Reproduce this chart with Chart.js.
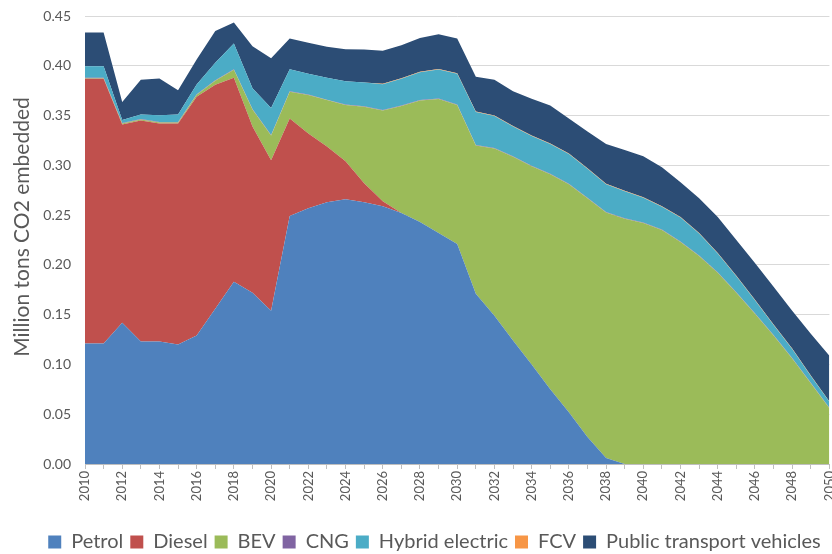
<!DOCTYPE html>
<html>
<head>
<meta charset="utf-8">
<script src="https://cdn.jsdelivr.net/npm/chart.js@4"></script>
<style>
html,body{margin:0;padding:0;background:#fff;overflow:hidden;}
#wrap{width:847px;height:554px;position:relative;}
</style>
</head>
<body>
<div id="wrap"><canvas id="c"></canvas></div>
<script>
const years = [];
for (let y = 2010; y <= 2050; y++) years.push(String(y));

const petrol = [0.121,0.121,0.142,0.123,0.123,0.120,0.129,0.156,0.183,0.172,0.154,0.249,0.257,0.263,0.266,0.263,0.259,0.252,0.243,0.232,0.221,0.171,0.149,0.124,0.100,0.075,0.052,0.027,0.006,0,0,0,0,0,0,0,0,0,0,0,0];
const diesel = [0.266,0.266,0.199,0.222,0.219,0.222,0.240,0.225,0.205,0.167,0.151,0.098,0.075,0.056,0.038,0.019,0.005,0,0,0,0,0,0,0,0,0,0,0,0,0,0,0,0,0,0,0,0,0,0,0,0];
const bev = [0.0005,0.0005,0.001,0.001,0.001,0.001,0.002,0.004,0.008,0.017,0.025,0.027,0.0386,0.0465,0.0565,0.0768,0.091,0.1075,0.122,0.1347,0.1395,0.149,0.168,0.1845,0.199,0.216,0.229,0.240,0.2465,0.2464,0.242,0.235,0.223,0.209,0.192,0.172,0.151,0.129,0.106,0.081,0.056];
const cng = [0.0005,0.0005,0.0005,0.0005,0.0005,0.0005,0.0005,0.0005,0.0005,0.0005,0.0005,0.0005,0.0005,0.0005,0.0005,0.0005,0.0005,0.0005,0.0005,0.0005,0.0005,0.0005,0.0005,0.0005,0.0005,0.0005,0.0005,0.0005,0.0005,0.0005,0.0005,0.0005,0.0005,0.0005,0.0005,0.0005,0.0005,0.0005,0.0005,0.0005,0.0005];
const hybrid = [0.0115,0.0115,0.003,0.0045,0.0067,0.0075,0.0097,0.0175,0.026,0.021,0.027,0.022,0.021,0.022,0.0235,0.024,0.026,0.027,0.028,0.029,0.031,0.033,0.032,0.030,0.030,0.030,0.030,0.029,0.028,0.027,0.025,0.023,0.024,0.022,0.019,0.016,0.013,0.010,0.009,0.007,0.006];
const fcv = [0,0,0,0,0,0,0,0,0,0,0,0,0,0,0,0,0.0005,0.0005,0.0005,0.0005,0.0005,0.0005,0.0005,0.0005,0.0005,0.0005,0.0005,0.0005,0.0005,0.0005,0.0005,0.0005,0.0005,0.0005,0.0005,0.0005,0.0005,0.0005,0.0005,0.0003,0.0003];
const publicTransport = [0.034,0.034,0.018,0.035,0.037,0.0245,0.025,0.032,0.021,0.042,0.050,0.031,0.031,0.031,0.032,0.033,0.033,0.033,0.034,0.035,0.035,0.035,0.036,0.035,0.037,0.038,0.035,0.037,0.040,0.041,0.041,0.039,0.035,0.035,0.036,0.036,0.037,0.038,0.038,0.042,0.046];

const yTicks = [0,0.05,0.10,0.15,0.20,0.25,0.30,0.35,0.40,0.45];
const yTitle = 'Million tons CO2 embedded';

const series = [
  {label:'Petrol', data:petrol, color:'#4F81BD'},
  {label:'Diesel', data:diesel, color:'#C0504D'},
  {label:'BEV', data:bev, color:'#9BBB59'},
  {label:'CNG', data:cng, color:'#8064A2'},
  {label:'Hybrid electric', data:hybrid, color:'#4BACC6'},
  {label:'FCV', data:fcv, color:'#F79646'},
  {label:'Public transport vehicles', data:publicTransport, color:'#2C4D75'}
];

const FONT = 'Lato, "Open Sans", sans-serif';
const TXT = '#595959';

const yTitlePlugin = {
  id: 'yTitle',
  afterDraw(chart) {
    const ctx = chart.ctx;
    ctx.save();
    ctx.translate(22, 227);
    ctx.rotate(-Math.PI / 2);
    ctx.font = '21px ' + FONT;
    ctx.fillStyle = TXT;
    ctx.textAlign = 'center';
    ctx.textBaseline = 'middle';
    ctx.fillText(yTitle, 0, 0);
    ctx.restore();
  }
};

new Chart(document.getElementById('c'), {
  type: 'line',
  data: {
    labels: years,
    datasets: series.map((s, i) => ({
      label: s.label,
      data: s.data,
      backgroundColor: s.color,
      borderColor: s.color,
      borderWidth: 0,
      pointRadius: 0,
      pointHoverRadius: 0,
      tension: 0,
      fill: i === 0 ? 'origin' : '-1'
    }))
  },
  plugins: [yTitlePlugin],
  options: {
    responsive: true,
    maintainAspectRatio: false,
    animation: false,
    layout: {padding: {top: 16, left: 22, right: 0, bottom: -8}},
    plugins: {
      tooltip: {enabled: false},
      legend: {
        position: 'bottom',
        labels: {
          font: {family: FONT, size: 20},
          color: TXT,
          boxWidth: 13,
          boxHeight: 13,
          padding: 7
        }
      }
    },
    scales: {
      x: {
        type: 'category',
        offset: false,
        grid: {drawOnChartArea: false, drawTicks: true, tickLength: 5, color: '#bfbfbf'},
        border: {display: true, color: '#bfbfbf'},
        ticks: {
          autoSkip: false,
          maxRotation: 90,
          minRotation: 90,
          color: TXT,
          font: {family: FONT, size: 13},
          padding: 2,
          callback: function(v, i) { return (i % 2 === 0) ? years[i] : ''; }
        },
        afterFit: function(s) { s.height = 61; }
      },
      y: {
        stacked: true,
        min: 0,
        max: 0.45,
        afterBuildTicks: function(s) { s.ticks = yTicks.map(v => ({value: v})); },
        grid: {color: '#d9d9d9', drawTicks: false},
        border: {display: false},
        ticks: {
          color: TXT,
          font: {family: FONT, size: 14},
          padding: 14,
          callback: function(v) { return Number(v).toFixed(2); }
        },
        afterFit: function(s) { s.width = 63; s.paddingTop = 0; s.paddingBottom = 0; }
      }
    }
  }
});
</script>
</body>
</html>
